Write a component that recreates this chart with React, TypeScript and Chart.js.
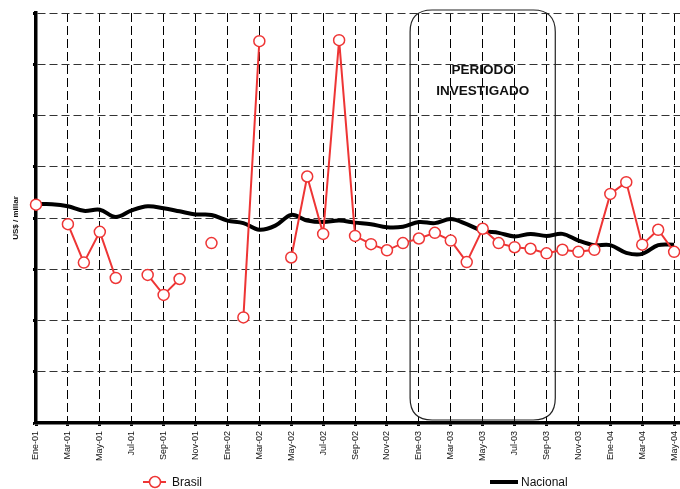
import React, { useEffect, useRef } from 'react';
import { Chart, registerables } from 'chart.js';

Chart.register(...registerables);

const months = [
  'Ene-01', 'Feb-01', 'Mar-01', 'Abr-01', 'May-01', 'Jun-01', 'Jul-01', 'Ago-01', 'Sep-01', 'Oct-01', 'Nov-01', 'Dic-01',
  'Ene-02', 'Feb-02', 'Mar-02', 'Abr-02', 'May-02', 'Jun-02', 'Jul-02', 'Ago-02', 'Sep-02', 'Oct-02', 'Nov-02', 'Dic-02',
  'Ene-03', 'Feb-03', 'Mar-03', 'Abr-03', 'May-03', 'Jun-03', 'Jul-03', 'Ago-03', 'Sep-03', 'Oct-03', 'Nov-03', 'Dic-03',
  'Ene-04', 'Feb-04', 'Mar-04', 'Abr-04', 'May-04',
];

const brasil: (number | null)[] = [
  4.26, null, 3.88, 3.13, 3.73, 2.83, null, 2.89, 2.5, 2.81, null, 3.51,
  null, 2.06, 7.45, null, 3.23, 4.81, 3.69, 7.47, 3.65, 3.49, 3.37, 3.51,
  3.6, 3.71, 3.56, 3.14, 3.79, 3.51, 3.43, 3.4, 3.31, 3.38, 3.34, 3.38,
  4.47, 4.7, 3.48, 3.77, 3.34,
];

const nacional: number[] = [
  4.27, 4.27, 4.23, 4.14, 4.16, 4.02, 4.15, 4.23, 4.19, 4.13, 4.07, 4.06,
  3.95, 3.9, 3.77, 3.85, 4.06, 3.95, 3.92, 3.95, 3.91, 3.88, 3.82, 3.83,
  3.92, 3.9, 3.98, 3.88, 3.75, 3.71, 3.64, 3.69, 3.65, 3.69, 3.56, 3.47,
  3.47, 3.32, 3.3, 3.47, 3.48,
];

const seriesNames = ['Brasil', 'Nacional'];
const periodLabel = ['PERIODO', 'INVESTIGADO'];
const periodStart = 23.45;
const periodEnd = 32.55;
const yTitle = 'US$ / millar';

const RED = '#ee3535';
const FONT = "'Liberation Sans', Arial, sans-serif";

export default function App() {
  const ref = useRef<HTMLCanvasElement | null>(null);

  useEffect(() => {
    if (!ref.current) return;

    const periodPlugin = {
      id: 'periodBox',
      beforeDatasetsDraw(chart: any) {
        const { ctx, chartArea, scales } = chart;
        const x1 = scales.x.getPixelForValue(periodStart);
        const x2 = scales.x.getPixelForValue(periodEnd);
        const y1 = chartArea.top - 3;
        const y2 = chartArea.bottom - 3;
        const r = 22;
        ctx.save();
        ctx.strokeStyle = '#222';
        ctx.lineWidth = 1.2;
        ctx.beginPath();
        ctx.moveTo(x1 + r, y1);
        ctx.lineTo(x2 - r, y1);
        ctx.quadraticCurveTo(x2, y1, x2, y1 + r);
        ctx.lineTo(x2, y2 - r);
        ctx.quadraticCurveTo(x2, y2, x2 - r, y2);
        ctx.lineTo(x1 + r, y2);
        ctx.quadraticCurveTo(x1, y2, x1, y2 - r);
        ctx.lineTo(x1, y1 + r);
        ctx.quadraticCurveTo(x1, y1, x1 + r, y1);
        ctx.stroke();
        ctx.fillStyle = '#111';
        ctx.font = `bold 13.5px ${FONT}`;
        ctx.textAlign = 'center';
        ctx.textBaseline = 'middle';
        const cx = (x1 + x2) / 2;
        ctx.fillText(periodLabel[0], cx, chartArea.top + 57);
        ctx.fillText(periodLabel[1], cx, chartArea.top + 78);
        ctx.restore();
      },
      afterDraw(chart: any) {
        const { ctx } = chart;
        const ly = 482;
        ctx.save();
        ctx.strokeStyle = RED;
        ctx.lineWidth = 2;
        ctx.beginPath();
        ctx.moveTo(143, ly);
        ctx.lineTo(166, ly);
        ctx.stroke();
        ctx.beginPath();
        ctx.arc(155, ly, 5.5, 0, Math.PI * 2);
        ctx.fillStyle = '#fff';
        ctx.fill();
        ctx.lineWidth = 1.5;
        ctx.stroke();
        ctx.strokeStyle = '#000';
        ctx.lineWidth = 4;
        ctx.beginPath();
        ctx.moveTo(490, ly);
        ctx.lineTo(518, ly);
        ctx.stroke();
        ctx.fillStyle = '#111';
        ctx.font = `12px ${FONT}`;
        ctx.textAlign = 'left';
        ctx.textBaseline = 'middle';
        ctx.fillText(seriesNames[0], 172, ly + 1);
        ctx.fillText(seriesNames[1], 521, ly + 1);
        ctx.restore();
      },
    };

    const chart = new Chart(ref.current, {
      type: 'line',
      data: {
        datasets: [
          {
            label: seriesNames[0],
            data: brasil.map((v, i) => ({ x: i, y: v })),
            borderColor: RED,
            borderWidth: 2,
            pointRadius: 5.5,
            pointBorderWidth: 1.5,
            pointBackgroundColor: '#fff',
            pointBorderColor: RED,
            tension: 0,
            spanGaps: false,
            clip: false as any,
          },
          {
            label: seriesNames[1],
            data: nacional.map((v, i) => ({ x: i, y: v })),
            borderColor: '#000',
            borderWidth: 4,
            pointRadius: 0,
            tension: 0.35,
            clip: false as any,
          },
        ],
      },
      options: {
        responsive: false,
        animation: false,
        layout: { padding: { top: 13, left: 0, right: 0, bottom: 0 } },
        plugins: {
          legend: { display: false },
          tooltip: { enabled: false },
        },
        scales: {
          x: {
            type: 'linear',
            min: 0,
            max: 40.4,
            afterBuildTicks: (scale: any) => {
              scale.ticks = scale.ticks.filter((t: any) => Number.isInteger(t.value) && t.value % 2 === 0);
            },
            afterFit: (scale: any) => {
              scale.height = 66;
            },
            ticks: {
              stepSize: 1,
              includeBounds: false,
              autoSkip: false,
              maxRotation: 90,
              minRotation: 90,
              padding: 5,
              color: '#111',
              font: { family: FONT, size: 9 },
              callback: (v: any) => (Number.isInteger(v) ? months[v] ?? '' : ''),
            },
            grid: {
              color: '#000',
              lineWidth: 1,
              tickLength: 3,
              tickWidth: 3,
              tickColor: '#000',
            },
            border: { display: true, color: '#000', width: 3.5, dash: [9, 4] },
          },
          y: {
            min: 0,
            max: 8,
            afterFit: (scale: any) => {
              scale.width = 36;
            },
            ticks: { stepSize: 1, display: false },
            title: {
              display: true,
              text: yTitle,
              color: '#111',
              font: { family: FONT, size: 8, weight: 'bold' },
              padding: { top: 11, bottom: 0 },
            },
            grid: {
              color: '#333',
              lineWidth: 1,
              tickLength: 3,
              tickWidth: 3,
              tickColor: '#000',
            },
            border: { display: true, color: '#000', width: 3.5, dash: [8, 4] },
          },
        },
      },
      plugins: [periodPlugin],
    });

    return () => chart.destroy();
  }, []);

  return (
    <div style={{ position: 'absolute', left: 0, top: 0, width: 680, height: 489, overflow: 'hidden' }}>
      <canvas ref={ref} width={690} height={489} style={{ display: 'block', width: 690, height: 489 }} />
    </div>
  );
}
